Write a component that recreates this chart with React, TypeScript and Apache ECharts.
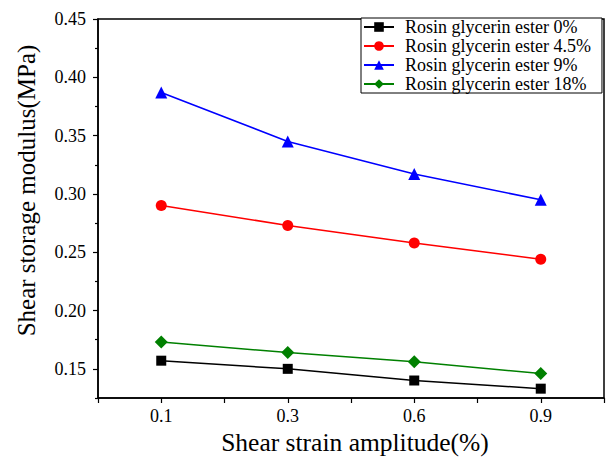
import React, { useEffect, useRef } from "react";
import * as echarts from "echarts";

const categories = ["0.1", "0.3", "0.6", "0.9"];
const seriesNames = [
  "Rosin glycerin ester 0%",
  "Rosin glycerin ester 4.5%",
  "Rosin glycerin ester 9%",
  "Rosin glycerin ester 18%",
];
const ester0 = [0.157, 0.15, 0.14, 0.133];
const ester45 = [0.29, 0.273, 0.258, 0.244];
const ester9 = [0.387, 0.345, 0.317, 0.295];
const ester18 = [0.173, 0.164, 0.156, 0.146];
const yMajorTicks = [0.15, 0.2, 0.25, 0.3, 0.35, 0.4, 0.45];
const yMinorTicks = [0.125, 0.175, 0.225, 0.275, 0.325, 0.375, 0.425];

const colors = ["#000000", "#ff0000", "#0000ff", "#008000"];
const symbols = ["rect", "circle", "triangle", "diamond"];
const symbolSizes = [10, 11, 12, 13];
const FONT = "Liberation Serif";

export default function App() {
  const ref = useRef<HTMLDivElement>(null);
  useEffect(() => {
    if (!ref.current) return;
    const chart = echarts.init(ref.current, null, { renderer: "svg" });
    const allData = [ester0, ester45, ester9, ester18];
    const yBase = {
      type: "value",
      min: 0.125,
      max: 0.45,
      position: "left",
      splitLine: { show: false },
    };
    chart.setOption({
      animation: false,
      backgroundColor: "#ffffff",
      textStyle: { fontFamily: FONT },
      grid: {
        left: 98,
        right: 9,
        top: 19,
        bottom: 64,
        show: true,
        borderColor: "#000",
        borderWidth: 1.5,
        containLabel: false,
      },
      legend: {
        orient: "vertical",
        left: 361,
        top: 18,
        itemGap: 1,
        itemWidth: 30,
        itemHeight: 12,
        padding: [0, 11, 0, 2],
        borderColor: "#000",
        borderWidth: 1,
        borderRadius: 0,
        backgroundColor: "#fff",
        textStyle: {
          fontFamily: FONT,
          fontSize: 18,
          color: "#000",
          padding: [0, 0, 0, 6],
        },
        data: seriesNames,
      },
      xAxis: {
        type: "value",
        min: -0.5,
        max: 3.5,
        interval: 0.5,
        name: "Shear strain amplitude(%)",
        nameLocation: "middle",
        nameGap: 30,
        nameTextStyle: { fontFamily: FONT, fontSize: 25.5, color: "#000", padding: [0, 0, 0, 8] },
        axisLine: { onZero: false, lineStyle: { color: "#000", width: 1.5 } },
        axisTick: { show: true, length: 5, lineStyle: { color: "#000", width: 1.2 } },
        splitLine: { show: false },
        axisLabel: {
          fontFamily: FONT,
          fontSize: 18,
          color: "#000",
          margin: 9,
          formatter: (v: number) =>
            Number.isInteger(v) && v >= 0 && v < categories.length ? categories[v] : "",
        },
      },
      yAxis: [
        {
          ...yBase,
          name: "Shear storage modulus(MPa)",
          nameLocation: "middle",
          nameGap: 59,
          nameTextStyle: { fontFamily: FONT, fontSize: 25, color: "#000", padding: [0, 0, 0, 36] },
          axisLine: { show: true, onZero: false, lineStyle: { color: "#000", width: 1.5 } },
          axisTick: {
            show: true,
            length: 5,
            customValues: yMajorTicks,
            lineStyle: { color: "#000", width: 1.2 },
          },
          axisLabel: {
            fontFamily: FONT,
            fontSize: 18,
            color: "#000",
            margin: 12,
            customValues: yMajorTicks,
            formatter: (v: number) => v.toFixed(2),
          },
        },
        {
          ...yBase,
          axisLine: { show: false, onZero: false },
          axisLabel: { show: false },
          axisTick: {
            show: true,
            length: 3,
            customValues: yMinorTicks,
            lineStyle: { color: "#000", width: 1.2 },
          },
        },
      ],
      series: seriesNames.map((name, i) => ({
        name,
        type: "line",
        yAxisIndex: 0,
        data: allData[i].map((v, j) => [j, v]),
        symbol: symbols[i],
        symbolSize: symbolSizes[i],
        itemStyle: { color: colors[i] },
        lineStyle: { color: colors[i], width: 1.5 },
      })),
    });
    return () => chart.dispose();
  }, []);
  return <div ref={ref} style={{ width: 613, height: 462, position: "absolute", left: 0, top: 0 }} />;
}
